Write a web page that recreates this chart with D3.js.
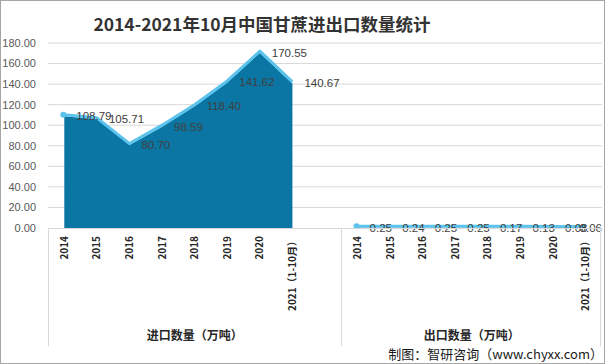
<!DOCTYPE html>
<html>
<head>
<meta charset="utf-8">
<script src="https://cdn.jsdelivr.net/npm/d3@7"></script>
<style>
  body { margin: 0; background: #fff; }
  svg { display: block; font-family: "Liberation Sans", "Noto Sans CJK SC", sans-serif; }
</style>
</head>
<body>
<div id="chart"></div>
<script>
var years = ["2014", "2015", "2016", "2017", "2018", "2019", "2020", "2021（1-10月）"];
var importVals = [108.79, 105.71, 80.70, 98.59, 118.40, 141.62, 170.55, 140.67];
var exportVals = [0.25, 0.24, 0.25, 0.25, 0.17, 0.13, 0.08, 0.06];
var groups = ["进口数量（万吨）", "出口数量（万吨）"];
var yTicks = [0, 20, 40, 60, 80, 100, 120, 140, 160, 180];

var width = 605, height = 364;
var padding = {left: 48, right: 3, top: 43, bottom: 136};

var svg = d3.select("#chart")
            .append("svg")
              .attr("width", width)
              .attr("height", height);

svg.append("rect")
   .attr("x", 0.5).attr("y", 0.5)
   .attr("width", width - 1).attr("height", height - 1)
   .attr("fill", "#fff")
   .attr("stroke", "#a6a6a6");

// 9 slots for imports (8 years + a blank slot), 8 for exports
var keys = years.map(y => "imp" + y).concat(["gap"]).concat(years.map(y => "exp" + y));
var xScale = d3.scaleBand()
               .domain(keys)
               .range([padding.left, width - padding.right]);
var yScale = d3.scaleLinear()
               .domain([0, 180])
               .range([height - padding.bottom, padding.top]);
var cx = k => xScale(k) + xScale.bandwidth() / 2;
var y0 = yScale(0);

// gridlines
svg.append("g")
   .selectAll("line")
   .data(yTicks.slice(1))
   .enter().append("line")
     .attr("x1", padding.left).attr("x2", width - padding.right)
     .attr("y1", d => yScale(d)).attr("y2", d => yScale(d))
     .attr("stroke", "#d9d9d9");

svg.append("g")
   .selectAll("text")
   .data(yTicks)
   .enter().append("text")
     .attr("x", 36)
     .attr("y", d => yScale(d))
     .attr("dy", "0.35em")
     .attr("text-anchor", "end")
     .attr("font-size", 11)
     .attr("fill", "#595959")
     .text(d => d.toFixed(2));

var series = [
  {prefix: "imp", vals: importVals},
  {prefix: "exp", vals: exportVals}
];

var area = d3.area()
             .x(d => cx(d.key))
             .y0(y0)
             .y1(d => yScale(d.v));
var line = d3.line()
             .x(d => cx(d.key))
             .y(d => yScale(d.v));

series.forEach(function(s) {
  var pts = s.vals.map((v, i) => ({key: s.prefix + years[i], v: v}));
  svg.append("path")
     .datum(pts)
     .attr("d", area)
     .attr("fill", "#0b76a3");
  svg.append("path")
     .datum(pts)
     .attr("d", line)
     .attr("transform", "translate(0,-1.5)")
     .attr("fill", "none")
     .attr("stroke", "#5cc3ec")
     .attr("stroke-width", 3)
     .attr("stroke-linejoin", "round");
  svg.append("circle")
     .attr("cx", cx(pts[0].key) - 1)
     .attr("cy", yScale(pts[0].v) - 1.5)
     .attr("r", 3)
     .attr("fill", "#5cc3ec");
  svg.append("g")
     .selectAll("text")
     .data(pts)
     .enter().append("text")
       .attr("x", d => cx(d.key) + 12)
       .attr("y", d => yScale(d.v))
       .attr("dy", "0.35em")
       .attr("font-size", 11.5)
       .attr("fill", "#404040")
       .text(d => d.v.toFixed(2))
       .each(function() {
         var w = this.getComputedTextLength();
         var x = +d3.select(this).attr("x");
         if (x + w > width - 3) d3.select(this).attr("x", width - 3 - w);
       });
});

// category axis
svg.append("line")
   .attr("x1", padding.left).attr("x2", width - padding.right)
   .attr("y1", y0 + 0.5).attr("y2", y0 + 0.5)
   .attr("stroke", "#d9d9d9");

var dividers = [padding.left, xScale("gap") + xScale.bandwidth(), width - padding.right - 2];
svg.append("g")
   .selectAll("line")
   .data(dividers)
   .enter().append("line")
     .attr("x1", d => Math.round(d) + 0.5).attr("x2", d => Math.round(d) + 0.5)
     .attr("y1", y0).attr("y2", 346)
     .attr("stroke", "#d9d9d9");

series.forEach(function(s) {
  svg.append("g")
     .selectAll("text")
     .data(years)
     .enter().append("text")
       .attr("transform", d => "translate(" + (cx(s.prefix + d) + 3.5) + "," + (y0 + 8) + ") rotate(-90)")
       .attr("text-anchor", "end")
       .attr("font-size", 10)
       .attr("font-weight", "bold")
       .attr("font-family", "'Noto Sans CJK SC', sans-serif")
       .attr("fill", "#262626")
       .text(d => d);
});

var groupSpans = [
  [padding.left, xScale("gap") + xScale.bandwidth()],
  [xScale("gap") + xScale.bandwidth(), width - padding.right]
];
svg.append("g")
   .selectAll("text")
   .data(groups)
   .enter().append("text")
     .attr("x", (d, i) => (groupSpans[i][0] + groupSpans[i][1]) / 2)
     .attr("y", 340)
     .attr("text-anchor", "middle")
     .attr("font-size", 12)
     .attr("font-weight", "bold")
     .attr("font-family", "'Noto Sans CJK SC', sans-serif")
     .attr("fill", "#262626")
     .text(d => d);

svg.append("text")
   .attr("x", 262)
   .attr("y", 31)
   .attr("text-anchor", "middle")
   .attr("font-size", 17.5)
   .attr("font-weight", "bold")
   .attr("font-family", "'Noto Sans CJK SC', sans-serif")
   .attr("fill", "#333")
   .text("2014-2021年10月中国甘蔗进出口数量统计");

svg.append("text")
   .attr("x", 603)
   .attr("y", 359)
   .attr("text-anchor", "end")
   .attr("font-size", 13)
   .attr("font-family", "'Noto Sans CJK SC', sans-serif")
   .attr("fill", "#1a1a1a")
   .text("制图：智研咨询（www.chyxx.com）");
</script>
</body>
</html>
